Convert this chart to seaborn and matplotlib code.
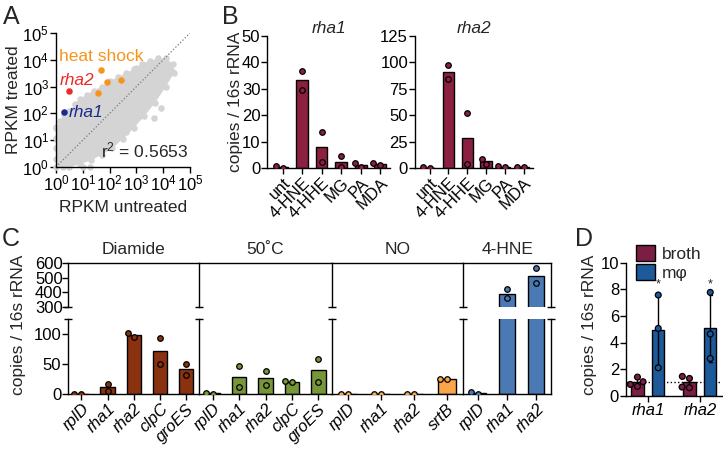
import numpy as np
import pandas as pd
import matplotlib
matplotlib.use("Agg")
import matplotlib.pyplot as plt
import seaborn as sns
from matplotlib.patches import Patch
from matplotlib.ticker import NullLocator

# PANEL A - scatter RPKM (valores en log10)
# contorno de la nube gris densa
cloud_x = [0.0, 0.0, 0.15, 0.3, 0.5, 0.7, 0.9, 1.15, 1.4, 1.7, 2.0, 2.3, 2.6, 2.9,
           3.2, 3.5, 3.8, 4.1, 4.35, 4.4, 4.1, 3.7, 3.3, 2.9, 2.5, 2.1, 1.7,
           1.3, 0.9, 0.5, 0.25]
cloud_y = [0.0, 1.45, 1.7, 1.95, 2.1, 2.35, 2.55, 2.7, 2.85, 3.0, 3.2, 3.35, 3.5, 3.65,
           3.85, 3.95, 4.05, 4.05, 3.85, 3.5, 3.0, 2.4, 1.9, 1.45, 1.05, 0.7, 0.45,
           0.25, 0.1, 0.0, 0.0]
# puntos grises sueltos
extra_x = [0.0, 0.0, 0.0, 0.0, 1.0, 1.25, 3.64, 3.33, 4.33, 3.0, 3.9, 2.6]
extra_y = [0.3, 0.7, 1.1, 1.5, 0.0, 0.0, 1.81, 3.8, 3.6, 3.7, 2.2, 1.3]
heat_x = [1.69, 1.92, 2.43, 1.58]
heat_y = [3.62, 3.16, 3.25, 2.77]
rha2_xy = (0.5, 2.83)
rha1_xy = (0.31, 2.04)

# PANEL B - qPCR aldehidos
b_conds = ["unt", "4-HNE", "4-HHE", "MG", "PA", "MDA"]
b_rha1_rep1 = [0.3, 36.9, 13.9, 4.7, 0.6, 1.9]
b_rha1_rep2 = [1.0, 29.6, 2.3, 0.4, 1.9, 1.3]
b_rha2_rep1 = [0.2, 97.6, 52.0, 9.0, 0.9, 0.9]
b_rha2_rep2 = [1.2, 84.4, 4.4, 4.0, 2.1, 1.6]

# PANEL C - estreses
c_groups = ["Diamide", "50˚C", "NO", "4-HNE"]
c_genes = [
    ["rplD", "rha1", "rha2", "clpC", "groES"],
    ["rplD", "rha1", "rha2", "clpC", "groES"],
    ["rplD", "rha1", "rha2", "srtB"],
    ["rplD", "rha1", "rha2"],
]
c_rep1 = [
    [0.4, 18.0, 96.0, 94.0, 50.0],
    [0.5, 47.0, 39.4, 20.0, 59.4],
    [0.5, 0.6, 0.5, 25.0],
    [0.4, 423.0, 562.0],
]
c_rep2 = [
    [0.6, 6.0, 103.0, 50.5, 33.0],
    [2.5, 11.7, 15.6, 22.0, 21.0],
    [0.8, 0.9, 0.7, 25.5],
    [3.5, 360.0, 461.0],
]
c_colors = ["#8a3210", "#77963a", "#f8a54c", "#4b79b3"]

# PANEL D - macrofagos
d_genes = ["rha1", "rha2"]
d_broth_rha1 = [1.4, 1.05, 0.85, 0.7]
d_broth_rha2 = [1.45, 1.3, 0.6, 0.65]
d_mphi_rha1 = [7.57, 5.06, 2.1]
d_mphi_rha2 = [7.77, 4.64, 2.8]

sns.set_style("ticks")
plt.rcParams["font.family"] = ["Liberation Sans", "DejaVu Sans"]
plt.rcParams["mathtext.default"] = "regular"
plt.rcParams["font.size"] = 12
plt.rcParams["axes.linewidth"] = 1.0
plt.rcParams["xtick.major.width"] = 1.0
plt.rcParams["ytick.major.width"] = 1.0
plt.rcParams["xtick.major.size"] = 4
plt.rcParams["ytick.major.size"] = 4
plt.rcParams["xtick.color"] = "black"
plt.rcParams["ytick.color"] = "black"
plt.rcParams["axes.edgecolor"] = "black"

TICK = 12
LAB = 12.5

W, H = 723, 449
fig = plt.figure(figsize=(W / 100, H / 100), dpi=100)


def caja(x, y_bottom, w, h):
    return [x / W, 1 - y_bottom / H, w / W, h / H]


# ---------------- PANEL A ----------------
ax_a = fig.add_axes(caja(56, 167, 134, 134))
ax_a.set_xscale("log")
ax_a.set_yscale("log")
ax_a.fill(10 ** np.array(cloud_x), 10 ** np.array(cloud_y), color="#d4d4d4", lw=0, zorder=1)
sns.scatterplot(x=10 ** np.array(cloud_x + extra_x), y=10 ** np.array(cloud_y + extra_y),
                color="#d4d4d4", s=22, linewidth=0, ax=ax_a, clip_on=False, zorder=1)
ax_a.plot([1, 1e5], [1, 1e5], ls=":", color="#777777", lw=0.9, zorder=2)
sns.scatterplot(x=10 ** np.array(heat_x), y=10 ** np.array(heat_y), color="#f7941d",
                s=22, linewidth=0, ax=ax_a, zorder=3)
ax_a.scatter([10 ** rha2_xy[0]], [10 ** rha2_xy[1]], color="#ee2a24", s=22, lw=0, zorder=3)
ax_a.scatter([10 ** rha1_xy[0]], [10 ** rha1_xy[1]], color="#1b2a8c", s=22, lw=0, zorder=3)
ax_a.text(10 ** 0.12, 10 ** 4.13, "heat shock", color="#f7941d", fontsize=12.5, va="center")
ax_a.text(10 ** 0.12, 10 ** 3.21, "rha2", color="#ee2a24", fontsize=12.5, style="italic", va="center")
ax_a.text(10 ** 0.48, 10 ** 2.05, "rha1", color="#1b2a8c", fontsize=12.5, style="italic", va="center")
ax_a.text(0.99, 0.05, "r$^2$ = 0.5653", transform=ax_a.transAxes, ha="right", va="bottom", fontsize=12.5)
ax_a.set_xlim(1, 1e5)
ax_a.set_ylim(1, 1e5)
ax_a.set_xticks([10 ** i for i in range(6)])
ax_a.set_yticks([10 ** i for i in range(6)])
ax_a.xaxis.set_minor_locator(NullLocator())
ax_a.yaxis.set_minor_locator(NullLocator())
ax_a.tick_params(labelsize=TICK, pad=1)
sns.despine(ax=ax_a)
ax_a.set_xlabel("RPKM untreated", fontsize=LAB)
ax_a.set_ylabel("RPKM treated", fontsize=LAB)
ax_a.xaxis.set_label_coords(0.5, -0.245)
ax_a.yaxis.set_label_coords(-0.26, 0.5)

# ---------------- PANEL B ----------------
color_b = "#8c2040"


def panel_b(ax, rep1, rep2, titulo, yticks):
    df = pd.DataFrame({"cond": b_conds * 2, "val": rep1 + rep2})
    sns.barplot(data=df, x="cond", y="val", order=b_conds, errorbar=None, color=color_b,
                saturation=1, edgecolor="black", linewidth=1, width=0.6, ax=ax)
    sns.swarmplot(data=df, x="cond", y="val", order=b_conds, color=color_b,
                  edgecolor="black", linewidth=0.9, size=4, ax=ax)
    ax.set_ylim(0, yticks[-1])
    ax.set_yticks(yticks)
    ax.set_xlim(-0.78, 5.5)
    ax.set_title(titulo, style="italic", fontsize=LAB, pad=0)
    ax.set_xlabel("")
    ax.set_ylabel("")
    ax.tick_params(labelsize=TICK, pad=1)
    plt.setp(ax.get_xticklabels(), rotation=45, ha="right", rotation_mode="anchor")
    sns.despine(ax=ax)


ax_b1 = fig.add_axes(caja(267.3, 168.3, 122.7, 132.3))
panel_b(ax_b1, b_rha1_rep1, b_rha1_rep2, "rha1", [0, 10, 20, 30, 40, 50])
ax_b1.set_ylabel("copies / 16s rRNA", fontsize=LAB)
ax_b1.yaxis.set_label_coords(-0.2, 0.5)
ax_b2 = fig.add_axes(caja(415, 168.3, 118, 132.3))
panel_b(ax_b2, b_rha2_rep1, b_rha2_rep2, "rha2", [0, 25, 50, 75, 100, 125])

# ---------------- PANEL C ----------------
anchos = [131, 132.4, 131.6, 87.7]
x_ini = 68.3
for k in range(len(c_groups)):
    genes = c_genes[k]
    df = pd.DataFrame({"gen": genes * 2, "val": c_rep1[k] + c_rep2[k]})
    ax_lo = fig.add_axes(caja(x_ini, 394.3, anchos[k], 75))
    ax_hi = fig.add_axes(caja(x_ini, 307.3, anchos[k], 44.6))
    for ax in (ax_lo, ax_hi):
        sns.barplot(data=df, x="gen", y="val", order=genes, errorbar=None, color=c_colors[k],
                    saturation=1, edgecolor="black", linewidth=1, width=0.55, ax=ax)
        sns.swarmplot(data=df, x="gen", y="val", order=genes, color=c_colors[k],
                      edgecolor="black", linewidth=0.9, size=4, ax=ax)
        ax.set_xlim(-0.5, len(genes) - 0.5)
        ax.set_xlabel("")
        ax.set_ylabel("")
        ax.tick_params(labelsize=TICK, pad=1)
        for lado in ["left", "right", "top", "bottom"]:
            ax.spines[lado].set_visible(False)
        ax.spines["left"].set_visible(True)
        if k == len(c_groups) - 1:
            ax.spines["right"].set_visible(True)
    ax_lo.set_ylim(0, 125)
    ax_lo.set_yticks([0, 50, 100])
    ax_lo.spines["bottom"].set_visible(True)
    ax_hi.set_ylim(300, 600)
    ax_hi.set_yticks([300, 400, 500, 600])
    ax_hi.spines["top"].set_visible(True)
    ax_hi.tick_params(axis="x", bottom=False, labelbottom=False)
    ax_hi.tick_params(axis="y", pad=0)
    plt.setp(ax_lo.get_xticklabels(), rotation=45, ha="right", rotation_mode="anchor",
             style="italic")
    if k > 0:
        ax_lo.tick_params(axis="y", left=False, labelleft=False)
        ax_hi.tick_params(axis="y", left=False, labelleft=False)
    # marcas del corte del eje
    bordes = [0, 1] if k == len(c_groups) - 1 else [0]
    for xb in bordes:
        ax_lo.plot([xb], [1], marker="_", ms=6, mew=1, color="black",
                   transform=ax_lo.transAxes, clip_on=False)
        ax_hi.plot([xb], [0], marker="_", ms=6, mew=1, color="black",
                   transform=ax_hi.transAxes, clip_on=False)
    fig.text((x_ini + anchos[k] / 2) / W, 1 - 249 / H, c_groups[k], ha="center",
             va="center", fontsize=LAB)
    x_ini += anchos[k]

fig.text(19 / W, 1 - 325 / H, "copies / 16s rRNA", rotation=90, ha="center", va="center",
         fontsize=LAB)

# ---------------- PANEL D ----------------
colores_d = {"broth": "#7b1d45", "mφ": "#1d5a9a"}
filas = []
for gen, broth, mphi in [("rha1", d_broth_rha1, d_mphi_rha1), ("rha2", d_broth_rha2, d_mphi_rha2)]:
    for v in broth:
        filas.append({"gen": gen, "cond": "broth", "val": v})
    for v in mphi:
        filas.append({"gen": gen, "cond": "mφ", "val": v})
df_d = pd.DataFrame(filas)

ax_d = fig.add_axes(caja(626, 395.7, 95.7, 133))
sns.barplot(data=df_d, x="gen", y="val", hue="cond", order=d_genes, hue_order=["broth", "mφ"],
            palette=colores_d, errorbar="sd", capsize=0.1, saturation=1, gap=0.4,
            err_kws={"color": "black", "linewidth": 1}, edgecolor="black", linewidth=1,
            legend=False, ax=ax_d)
sns.swarmplot(data=df_d, x="gen", y="val", hue="cond", order=d_genes, hue_order=["broth", "mφ"],
              palette=colores_d, dodge=True, edgecolor="black", linewidth=0.9, size=4.2,
              legend=False, ax=ax_d)
ax_d.axhline(1, ls=":", color="black", lw=1, zorder=0)
for i in range(len(d_genes)):
    ax_d.text(i + 0.2, 8.4, "*", ha="center", va="center", fontsize=9)
ax_d.set_ylim(0, 10)
ax_d.set_yticks([0, 2, 4, 6, 8, 10])
ax_d.set_xlim(-0.42, 1.42)
ax_d.set_xlabel("")
ax_d.set_ylabel("copies / 16s rRNA", fontsize=LAB)
ax_d.yaxis.set_label_coords(-0.3, 0.53)
ax_d.tick_params(labelsize=TICK, pad=1)
for lab in ax_d.get_xticklabels():
    lab.set_style("italic")
sns.despine(ax=ax_d)
manejadores = [Patch(facecolor=colores_d[c], edgecolor="black", label=c) for c in colores_d]
fig.legend(handles=manejadores, loc="upper left", bbox_to_anchor=(627 / W, 1 - 236 / H),
           frameon=False, fontsize=LAB, handlelength=1.1, handleheight=1.1,
           borderpad=0, labelspacing=0.1, handletextpad=0.4)

# letras de panel
for letra, x, y in [("A", 3, 5), ("B", 222, 5), ("C", 2, 227), ("D", 575, 227)]:
    fig.text(x / W, 1 - y / H, letra, fontsize=18, ha="left", va="top")

fig.savefig("out.png", dpi=100)
